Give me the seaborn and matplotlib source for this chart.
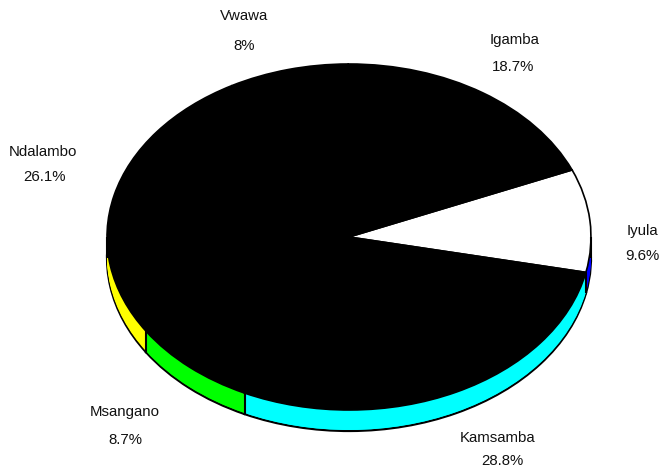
import numpy as np
import matplotlib
matplotlib.use("Agg")
import matplotlib.pyplot as plt
import seaborn as sns

villages = ["Iyula", "Kamsamba", "Msangano", "Ndalambo", "Vwawa", "Igamba"]
shares = [9.6, 28.8, 8.7, 26.1, 8, 18.7]
top_colors = ["white", "black", "black", "black", "black", "black"]
side_colors = ["#0000ff", "#00ffff", "#00ff00", "#ffff00", "#ff0000", "#ff00ff"]

# pixel position of each line of the labels (x centre, name y, share x, share y)
label_pos = {
    "Iyula": (642, 231, 642, 256),
    "Kamsamba": (498, 438, 502, 461),
    "Msangano": (125, 412, 125, 440),
    "Ndalambo": (43, 152, 44, 177),
    "Vwawa": (244, 16, 244, 46),
    "Igamba": (515, 40, 513, 67),
}

sns.set_style("white")
plt.rcParams["font.family"] = ["Liberation Sans", "DejaVu Sans"]

W, H = 663, 471
fig = plt.figure(figsize=(W / 100, H / 100), dpi=100)

# ellipse box of the top face in pixels, the rim hangs below it
left, right, top, bottom = 107, 591, 64, 410
depth = 21
ax = fig.add_axes([left / W, 1 - (bottom + depth) / H, (right - left) / W, (bottom + depth - top) / H])
d = depth / ((bottom - top) / 2)
start = 22.8

# rim: stack of pies going up, lowest one carries the outline
for i, k in enumerate(np.arange(depth, 0, -1)):
    edge = {"edgecolor": "black", "linewidth": 1.6} if i == 0 else {"edgecolor": "none"}
    ax.pie(shares, colors=side_colors, startangle=start, counterclock=False,
           center=(0, -k * d / depth), radius=1, wedgeprops=edge)

# top face
wedges, _ = ax.pie(shares, colors=top_colors, startangle=start, counterclock=False,
                   center=(0, 0), radius=1, wedgeprops={"edgecolor": "black", "linewidth": 1.2})

# vertical lines of the rim at slice borders and at both ends
angles = [w.theta1 % 360 for w in wedges] + [180, 360]
for a in angles:
    if 180 <= a <= 360:
        x = np.cos(np.radians(a))
        y = np.sin(np.radians(a))
        ax.plot([x, x], [y, y - d], color="black", lw=1.5, solid_capstyle="butt", clip_on=False)

ax.set_aspect("auto")
ax.set_xlim(-1, 1)
ax.set_ylim(-1 - d, 1)
ax.axis("off")

for name, share in zip(villages, shares):
    x1, y1, x2, y2 = label_pos[name]
    fig.text(x1 / W, 1 - y1 / H, name, ha="center", va="center", fontsize=10.8, color="#111111")
    fig.text(x2 / W, 1 - y2 / H, f"{share}%", ha="center", va="center", fontsize=10.8, color="#111111")

fig.savefig("out.png", dpi=100)
